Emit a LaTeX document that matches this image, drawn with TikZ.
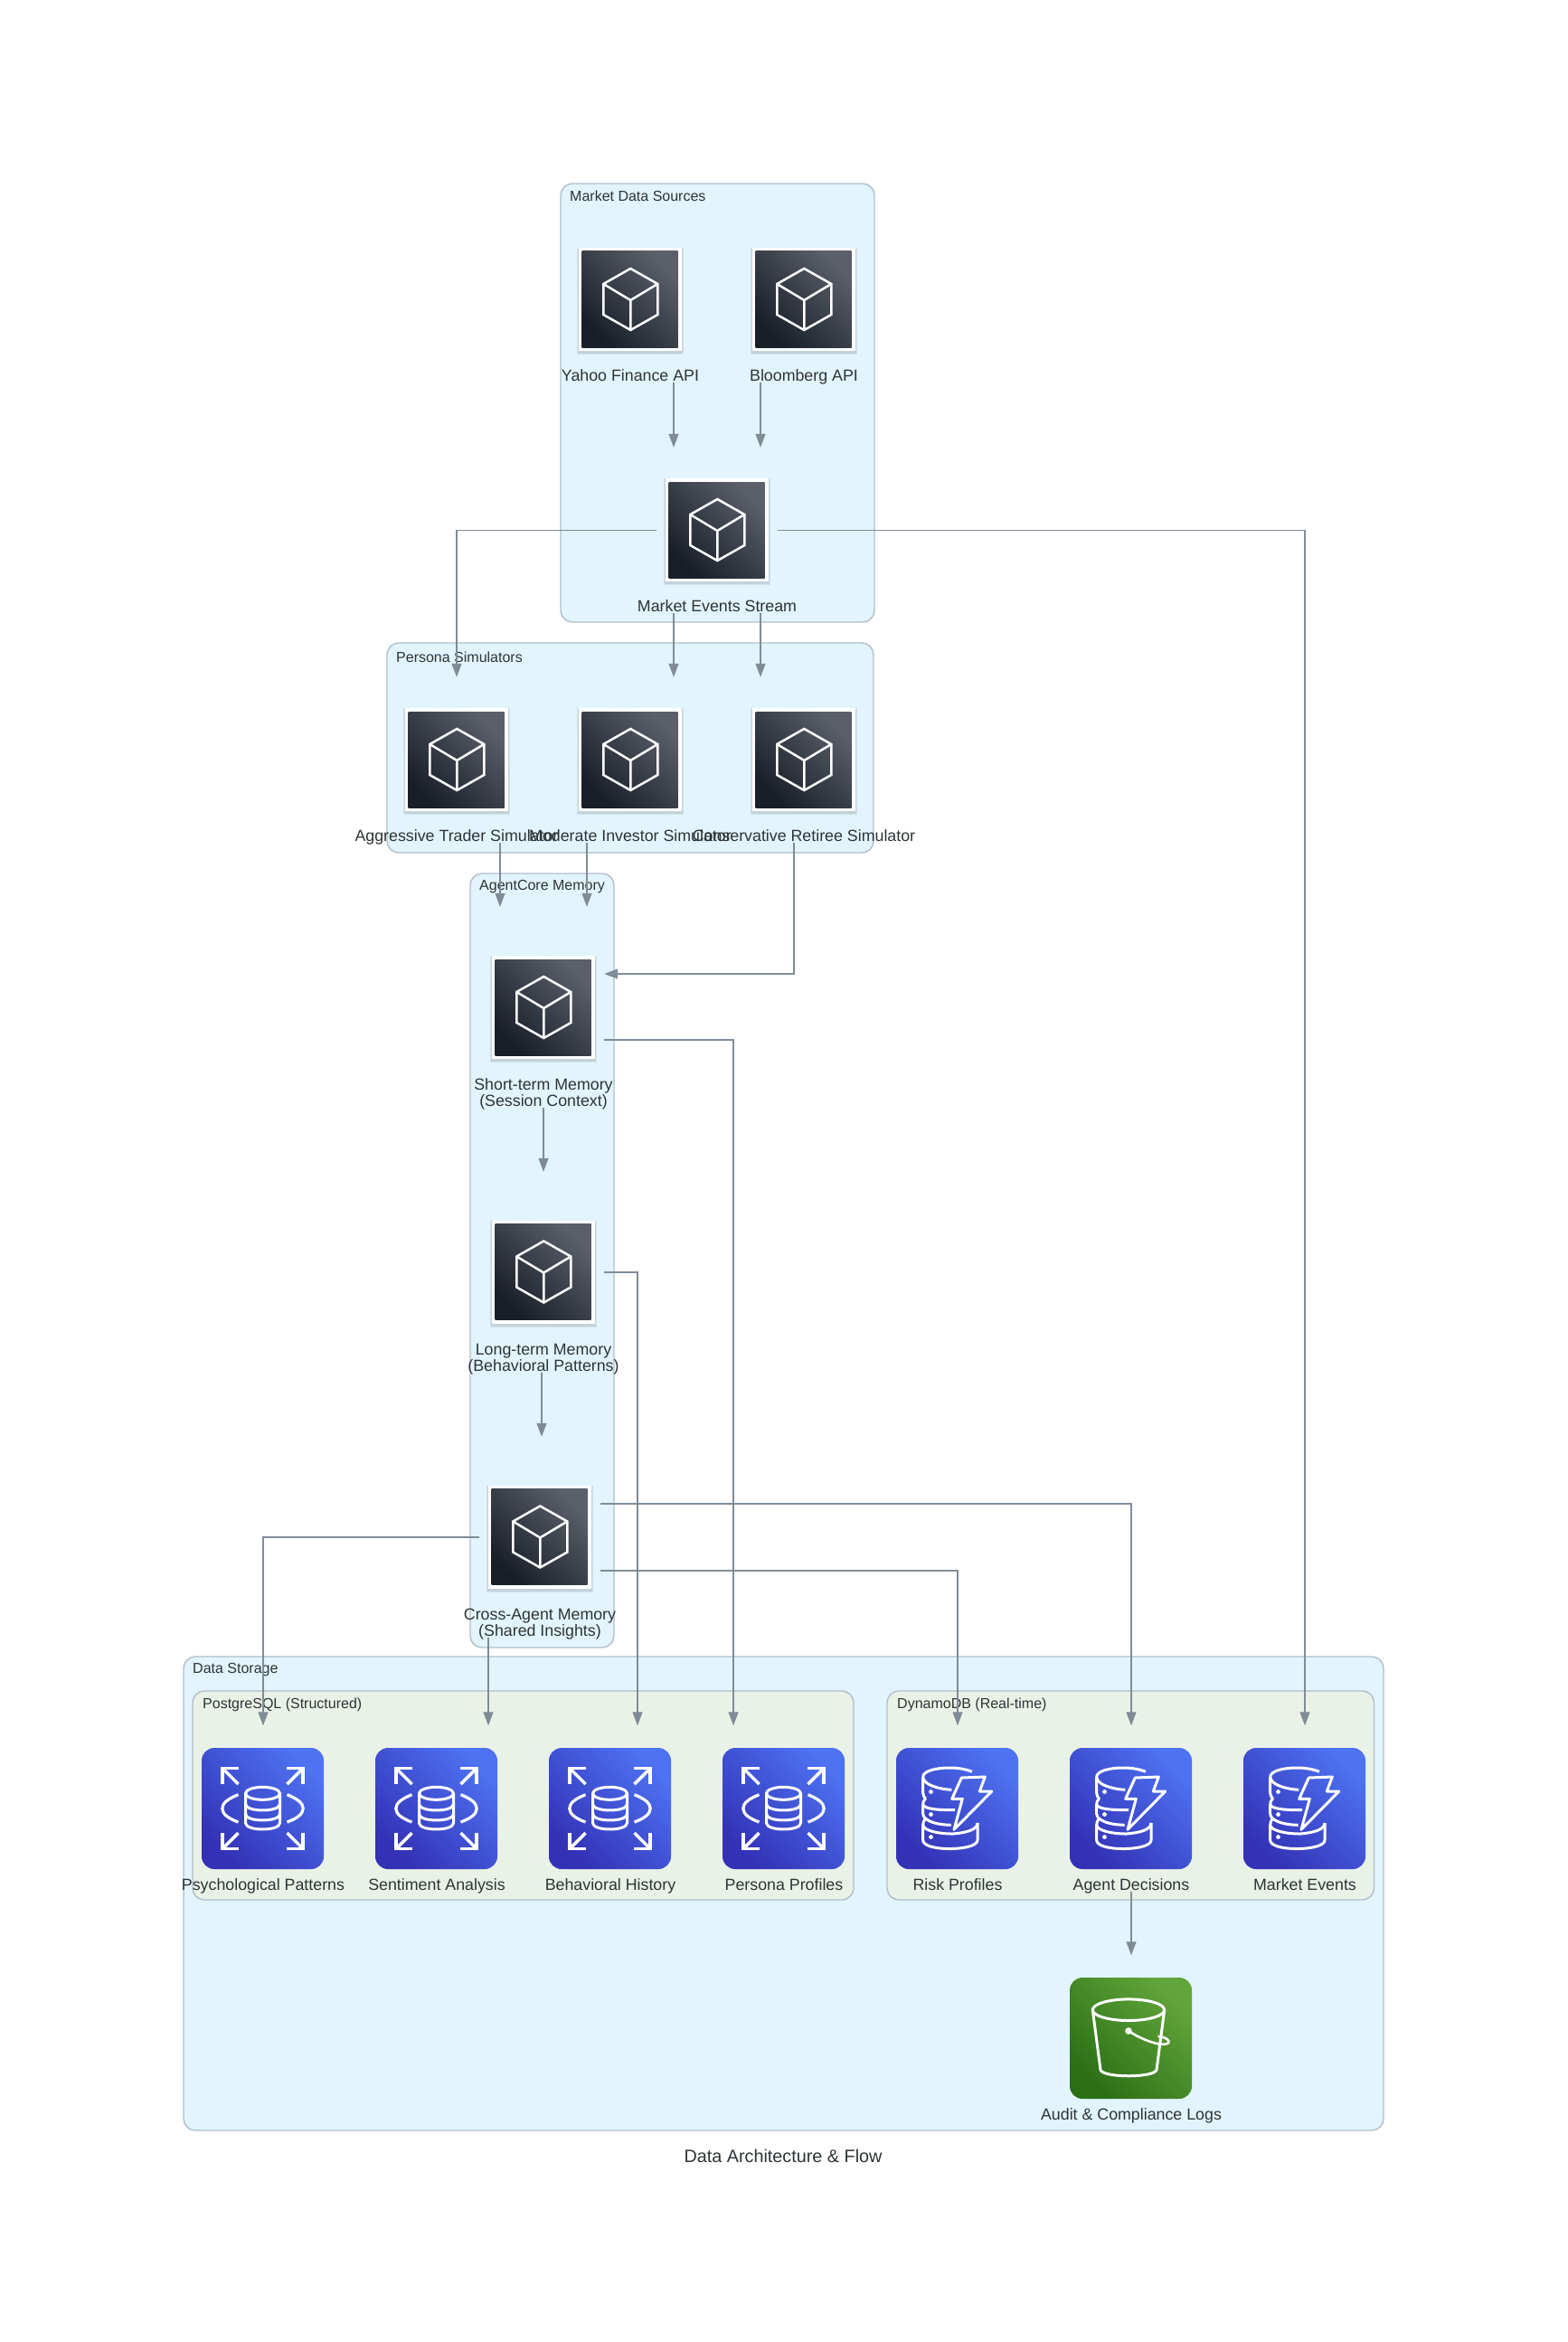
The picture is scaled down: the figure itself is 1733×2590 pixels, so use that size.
\documentclass[tikz,border=0pt]{standalone}
\usepackage{fontspec}
\setmainfont{Liberation Sans}
\usetikzlibrary{arrows.meta,calc}
\definecolor{ink}{HTML}{2D3436}
\definecolor{edgeclr}{HTML}{7F8C98}
\definecolor{outerbg}{HTML}{E2F4FD}
\definecolor{innerbg}{HTML}{EAF2E7}
\definecolor{clusterln}{HTML}{B0BECA}
\definecolor{darkA}{HTML}{181F28}
\definecolor{darkB}{HTML}{5A5F69}
\definecolor{blueA}{HTML}{3331B5}
\definecolor{blueB}{HTML}{4D72F2}
\definecolor{greenA}{HTML}{2A6F16}
\definecolor{greenB}{HTML}{62A53A}
\newcommand{\lbl}[1]{\makebox[0pt][c]{#1}}
\newcommand{\twolbl}[2]{\makebox[0pt][c]{\vbox{\baselineskip=18pt\halign{\hfil##\hfil\cr #1\cr #2\cr}}}}
\tikzset{
  conn/.style={draw=edgeclr,line width=1.2pt,-{Triangle[length=15pt,width=11pt,fill=edgeclr]}},
  clusterbox/.style={draw=clusterln,line width=1.4pt,rounded corners=13pt,fill=outerbg},
  innerbox/.style={clusterbox,fill=innerbg},
  ctitle/.style={anchor=west,inner sep=0pt,text=ink,font=\fontsize{16pt}{18pt}\selectfont},
  nbox/.style={rectangle,draw=none,inner sep=0pt,minimum width=134pt,text=ink,font=\fontsize{17.8pt}{18pt}\selectfont,text height=181.5pt,text depth=1.5pt},
  nboxtwo/.style={nbox,text height=220pt,text depth=2pt},
  glyph/.style={draw=white,line width=3pt,line cap=butt,line join=round},
  cubeicon/.pic={
    \foreach \g in {1,2}{\fill[black,opacity=.07] (-57-\g,-57-\g+2) rectangle (57+\g,57+\g+2);}
    \fill[white] (-57,-57) rectangle (57,57);
    \shade[top color=darkB,bottom color=darkA,shading angle=-45] (-53,-53) rectangle (53,53);
    \draw[white,line width=2.5pt,line join=miter] (0.8,-34) -- (30.8,-17) -- (30.8,17) -- (0.8,34) -- (-29.2,17) -- (-29.2,-17) -- cycle;
    \draw[white,line width=2.5pt,line join=miter] (-29.2,-17) -- (0.8,1) -- (30.8,-17) (0.8,1) -- (0.8,34);
  },
  rdsicon/.pic={
    \shade[top color=blueB,bottom color=blueA,shading angle=-45,rounded corners=14pt] (-67.5,-67) rectangle (67.5,67);
    \foreach \sx/\sy in {-1/-1,1/-1,-1/1,1/1}{
      \draw[white,line width=3.5pt,line join=miter] (\sx*26.7,\sy*44.7) -- (\sx*44.7,\sy*44.7) -- (\sx*44.7,\sy*26.7);
      \draw[white,line width=3.5pt] (\sx*43.5,\sy*43.5) -- (\sx*27,\sy*27);
    }
    \draw[white,line width=3.2pt] (-27,-15.3) .. controls (-38,-11) and (-44.7,-6) .. (-44.7,0) .. controls (-44.7,6) and (-38,11) .. (-27,15);
    \draw[white,line width=3.2pt] (27,-15.3) .. controls (38,-11) and (44.7,-6) .. (44.7,0) .. controls (44.7,6) and (38,11) .. (27,15);
    \draw[glyph] (0,-16.7) ellipse [x radius=19pt,y radius=7pt];
    \draw[glyph] (-19,-16.7) -- (-19,16) .. controls (-19,25.3) and (19,25.3) .. (19,16) -- (19,-16.7);
    \draw[glyph] (-19,-5) .. controls (-19,4.3) and (19,4.3) .. (19,-5);
    \draw[glyph] (-19,6) .. controls (-19,15.3) and (19,15.3) .. (19,6);
  },
  ddbicon/.pic={
    \shade[top color=blueB,bottom color=blueA,shading angle=-45,rounded corners=14pt] (-67.5,-67) rectangle (67.5,67);
    \draw[glyph] (16.5,-40.7) .. controls (8,-44) and (0,-45) .. (-8.5,-45) .. controls (-25,-45) and (-37.8,-41) .. (-37.8,-35) .. controls (-37.8,-27) and (-22,-21.5) .. (-6.2,-20.7);
    \draw[glyph] (-37.8,-35) -- (-37.8,-17) .. controls (-37.8,-14) and (-36,-12) .. (-35,-11) .. controls (-37,-9) and (-37.8,-7) .. (-37.8,-5) .. controls (-37.8,-3) and (-36,2) .. (-2.5,1.7);
    \draw[glyph] (-37.8,-5) -- (-37.8,6) .. controls (-37.8,8) and (-36.5,10) .. (-35,11) .. controls (-37,13) and (-37.8,16) .. (-37.8,18) -- (-37.8,35) .. controls (-37.8,41) and (-25,44.5) .. (-8.5,44.5) .. controls (8,44.5) and (22.5,41) .. (22.5,35) -- (22.5,16);
    \draw[glyph] (-35,11) .. controls (-30,15.5) and (-20,18) .. (-6.8,18.3);
    \draw[glyph] (-37.8,18) .. controls (-37.8,24) and (-22,28) .. (-5,28) .. controls (8,27) and (22.5,24) .. (22.5,16);
    \fill[white] (-29,-18.5) circle (2.4pt) (-29,6.5) circle (2.4pt) (-29,31.5) circle (2.4pt);
    \draw[white,line width=3pt,line join=round] (4.8,-34) -- (30.8,-35) -- (24.8,-19) -- (38.2,-19) -- (-3.5,23.3) -- (5.8,-10.7) -- (-5.8,-10.7) -- cycle;
  },
  sthreeicon/.pic={
    \shade[top color=greenB,bottom color=greenA,shading angle=-45,rounded corners=14pt] (-67.5,-67) rectangle (67.5,67);
    \draw[glyph] (-2.5,-31.3) ellipse [x radius=39.7pt,y radius=11.8pt];
    \draw[glyph] (-42.2,-31.3) -- (-33.5,35) .. controls (-31,44) and (26,44) .. (28.5,35) -- (37.2,-31.3);
    \fill[white] (-2.5,-8) circle (3.8pt);
    \draw[glyph,line width=2.6pt] (-2.5,-8) .. controls (8,-1) and (22,5) .. (32,6.5) .. controls (38,7.5) and (43,6) .. (42,3.5) .. controls (41,0) and (34,-2) .. (30,-2);
  }
}
\begin{document}
\begin{tikzpicture}[x=1pt,y=-1pt]
\useasboundingbox (0,0) rectangle (1733,2590);
% clusters
\path[clusterbox] (620,203) rectangle (967,688);
\path[clusterbox] (428,711) rectangle (966,943);
\path[clusterbox] (520,966) rectangle (679,1822);
\path[clusterbox] (203,1832) rectangle (1530,2356);
\path[innerbox] (213,1870) rectangle (944,2101);
\path[innerbox] (981,1870) rectangle (1519.5,2101);
\node[ctitle] (tmarket) at (630,217) {Market Data Sources};
\node[ctitle] (tpersona) at (438,727) {Persona Simulators};
\node[ctitle] (tagent) at (530,981) {AgentCore Memory};
\node[ctitle] (tdata) at (213,1847) {Data Storage};
\node[ctitle] (tpg) at (224,1885) {PostgreSQL (Structured)};
\node[ctitle] (tdyn) at (992,1885) {DynamoDB (Real-time)};
% icons
\foreach \p in {(696.5,331),(888.5,331),(792.5,586),(504.5,840),(696.5,840),(888.5,840),(600.5,1114),(600.5,1406.5),(596.5,1699.5)}{\pic at \p {cubeicon};}
\foreach \p in {(290.5,2000),(482.5,2000),(674.5,2000),(866.5,2000)}{\pic at \p {rdsicon};}
\foreach \p in {(1058.5,2000),(1250.5,2000),(1442.5,2000)}{\pic at \p {ddbicon};}
\pic at (1250.5,2254) {sthreeicon};
% nodes with their labels
\node[nbox] (yahoo) at (697,331) {\lbl{Yahoo Finance API}};
\node[nbox] (bloom) at (889,331) {\lbl{Bloomberg API}};
\node[nbox] (mes) at (793,586.5) {\lbl{Market Events Stream}};
\node[nbox] (agg) at (505,840.5) {\lbl{Aggressive Trader Simulator}};
\node[nbox] (mod) at (697,840.5) {\lbl{Moderate Investor Simulator}};
\node[nbox] (cons) at (889,840.5) {\lbl{Conservative Retiree Simulator}};
\node[nboxtwo] (st) at (601,1114) {\twolbl{Short-term Memory}{(Session Context)}};
\node[nboxtwo] (lt) at (601,1407) {\twolbl{Long-term Memory}{(Behavioral Patterns)}};
\node[nboxtwo] (cross) at (597,1700) {\twolbl{Cross-Agent Memory}{(Shared Insights)}};
\node[nbox] (psy) at (291,2000) {\lbl{Psychological Patterns}};
\node[nbox] (sen) at (483,2000) {\lbl{Sentiment Analysis}};
\node[nbox] (beh) at (675,2000) {\lbl{Behavioral History}};
\node[nbox] (pers) at (867,2000) {\lbl{Persona Profiles}};
\node[nbox] (risk) at (1059,2000) {\lbl{Risk Profiles}};
\node[nbox] (dec) at (1251,2000) {\lbl{Agent Decisions}};
\node[nbox] (mev) at (1443,2000) {\lbl{Market Events}};
\node[nbox] (sthree) at (1251,2254) {\lbl{Audit \& Compliance Logs}};
\node[inner sep=0pt,text=ink,font=\fontsize{19.8pt}{22pt}\selectfont] (title) at (866,2384) {Data Architecture \& Flow};
% connectors
\draw[conn] ([xshift=48pt]yahoo.south) -- ([xshift=-48pt]mes.north);
\draw[conn] ([xshift=-48pt]bloom.south) -- ([xshift=48pt]mes.north);
\draw[conn] (mes.west) -| (agg.north);
\draw[conn] ([xshift=-48pt]mes.south) -- ([xshift=48pt]mod.north);
\draw[conn] ([xshift=48pt]mes.south) -- ([xshift=-48pt]cons.north);
\draw[conn] (mes.east) -| (mev.north);
\draw[conn] ([xshift=48pt]agg.south) -- ([xshift=-48pt]st.north);
\draw[conn] ([xshift=-48pt]mod.south) -- ([xshift=48pt]st.north);
\draw[conn] ([xshift=-11pt]cons.south) |- ([yshift=37pt]st.east);
\draw[conn] (st.south) -- (lt.north);
\draw[conn] ([yshift=-36pt]st.east) -| ([xshift=-56pt]pers.north);
\draw[conn] (lt.east) -| ([xshift=30pt]beh.north);
\draw[conn] ([xshift=-2pt]lt.south) -- ([xshift=2pt]cross.north);
\draw[conn] (cross.west) -| (psy.north);
\draw[conn] ([xshift=-57pt]cross.south) -- ([xshift=57pt]sen.north);
\draw[conn] ([yshift=37pt]cross.east) -| (dec.north);
\draw[conn] ([yshift=-37pt]cross.east) -| (risk.north);
\draw[conn] (dec.south) -- (sthree.north);
\end{tikzpicture}
\end{document}
